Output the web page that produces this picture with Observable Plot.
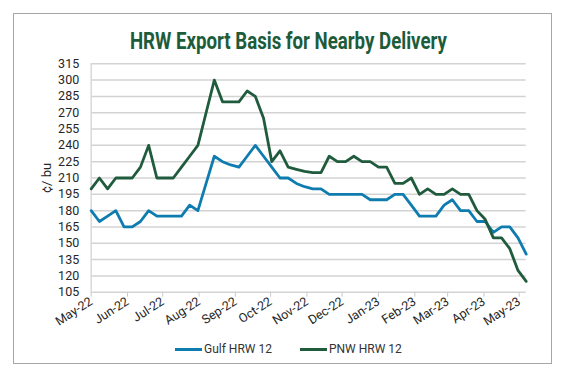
<!DOCTYPE html>
<html><head><meta charset="utf-8">
<script src="https://cdn.jsdelivr.net/npm/d3@7"></script>
<script src="https://cdn.jsdelivr.net/npm/@observablehq/plot@0.6"></script>
<style>
body{margin:0;background:#fff;font-family:Roboto,sans-serif;}
#frame{position:absolute;left:13px;top:13px;width:539px;height:351px;border:1px solid #a6a6a6;box-sizing:border-box;}
#titlewrap{position:absolute;left:5px;top:28px;width:566px;text-align:center;line-height:28px;}
#title{display:inline-block;font-family:Roboto,sans-serif;font-weight:700;font-size:23px;color:#1d5c3b;white-space:nowrap;transform-origin:center;}
#chart{position:absolute;left:0;top:55px;}
#legend{position:absolute;left:175px;top:341px;height:16px;display:flex;align-items:center;font-size:12px;color:#333;white-space:nowrap;}
.sw{display:inline-block;width:27px;height:3px;margin-right:2px;}
[aria-label^="x-axis"] line,[aria-label^="x-axis"] path{stroke:#c8c8c8;}
</style></head>
<body>
<div id="frame"></div>
<div id="titlewrap"><span id="title">HRW Export Basis for Nearby Delivery</span></div>
<div id="chart"></div>
<div id="legend"><span class="sw" style="background:#0f7cb0"></span><span>Gulf HRW 12</span><span class="sw" style="background:#1f5b3c;margin-left:28px"></span><span>PNW HRW 12</span></div>
<script>
const dates = ["2022-05-01","2022-05-08","2022-05-15","2022-05-22","2022-05-29","2022-06-05","2022-06-12","2022-06-19","2022-06-26",
"2022-07-03","2022-07-10","2022-07-17","2022-07-24","2022-07-31","2022-08-07","2022-08-14","2022-08-21","2022-08-28",
"2022-09-04","2022-09-11","2022-09-18","2022-09-25","2022-10-02","2022-10-09","2022-10-16","2022-10-23","2022-10-30",
"2022-11-06","2022-11-13","2022-11-20","2022-11-27","2022-12-04","2022-12-11","2022-12-18","2022-12-25",
"2023-01-01","2023-01-08","2023-01-15","2023-01-22","2023-01-29","2023-02-05","2023-02-12","2023-02-19","2023-02-26",
"2023-03-05","2023-03-12","2023-03-19","2023-03-26","2023-04-02","2023-04-09","2023-04-16","2023-04-23","2023-04-30","2023-05-07"];
const gulf = [180,170,175,180,165,165,170,180,175,175,175,175,185,180,205,230,225,222,220,230,240,230,220,210,210,205,202,200,200,
195,195,195,195,195,190,190,190,195,195,185,175,175,175,185,190,180,180,170,170,160,165,165,155,140];
const pnw = [200,210,200,210,210,210,220,240,210,210,210,220,230,240,270,300,280,280,280,290,285,265,225,235,220,218,216,215,215,
230,225,225,230,225,225,220,220,205,205,210,195,200,195,195,200,195,195,180,172,155,155,145,125,115];
const monthTicks = ["2022-05-01","2022-06-01","2022-07-01","2022-08-01","2022-09-01","2022-10-01","2022-11-01","2022-12-01",
"2023-01-01","2023-02-01","2023-03-01","2023-04-01","2023-05-01"];
const yTicks = [105,120,135,150,165,180,195,210,225,240,255,270,285,300,315];
const seriesNames = ["Gulf HRW 12","PNW HRW 12"];
const yLabel = "¢/ bu";

const rows = dates.map((d,i)=>({date:new Date(d), gulf:gulf[i], pnw:pnw[i]}));
const xStart = new Date(dates[0]), xEnd = new Date(dates[dates.length-1]);

const chart = Plot.plot({
  width:566, height:285,
  marginTop:8.3, marginBottom:48.3, marginLeft:90.7, marginRight:40.3,
  style:{fontFamily:"Roboto, sans-serif", fontSize:"12.5px", color:"#262626", background:"transparent", overflow:"visible"},
  x:{type:"utc", domain:[xStart,xEnd], ticks:monthTicks.map(d=>new Date(d)), tickFormat:d3.utcFormat("%b-%y"), tickRotate:-33, tickSize:5, tickPadding:3, label:null},
  y:{domain:[105,315], ticks:yTicks, tickSize:0, tickPadding:12, label:null},
  marks:[
    Plot.ruleY(yTicks,{stroke:"#d3d3d3", strokeWidth:1.5}),
    Plot.ruleX([xStart],{stroke:"#d9d9d9", strokeWidth:1.5}),
    Plot.line(rows,{x:"date", y:"gulf", stroke:"#0f7cb0", strokeWidth:2.8}),
    Plot.line(rows,{x:"date", y:"pnw", stroke:"#1f5b3c", strokeWidth:2.8}),
    Plot.text([yLabel],{text:d=>d, frameAnchor:"left", textAnchor:"middle", dx:-44, rotate:-90, fontSize:13})
  ]
});
document.getElementById("chart").appendChild(chart);
const t = document.getElementById("title");
const w = t.getBoundingClientRect().width;
t.style.transform = `scaleX(${317/w})`;
</script>
</body></html>
